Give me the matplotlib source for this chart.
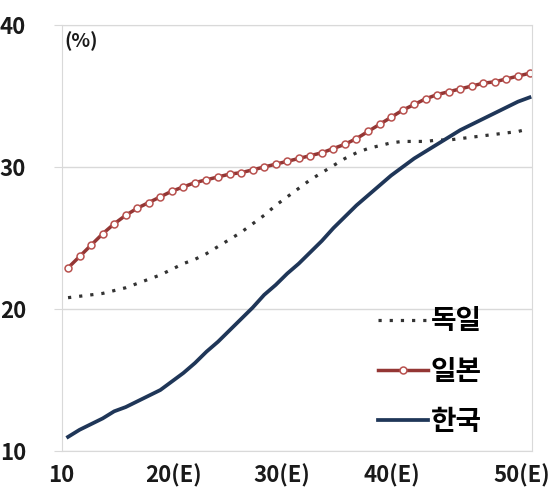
import numpy as np
import matplotlib.pyplot as plt
from matplotlib.transforms import ScaledTranslation

plt.rcParams['font.family'] = ['Noto Sans CJK KR', 'DejaVu Sans']

years = np.arange(2010, 2051)

germany = [20.8, 20.9, 21.0, 21.1, 21.3, 21.5, 21.8, 22.1, 22.4, 22.8,
           23.2, 23.5, 23.9, 24.4, 24.9, 25.4, 26.0, 26.6, 27.3, 27.9,
           28.5, 29.1, 29.6, 30.1, 30.6, 31.0, 31.3, 31.5, 31.7, 31.8,
           31.8, 31.8, 31.9, 31.9, 32.0, 32.1, 32.2, 32.3, 32.4, 32.5, 32.7]

japan = [22.9, 23.7, 24.5, 25.3, 26.0, 26.6, 27.1, 27.5, 27.9, 28.3,
         28.6, 28.9, 29.1, 29.3, 29.5, 29.6, 29.8, 30.0, 30.2, 30.4,
         30.6, 30.8, 31.0, 31.3, 31.6, 32.0, 32.5, 33.0, 33.5, 34.0,
         34.4, 34.8, 35.1, 35.3, 35.5, 35.7, 35.9, 36.0, 36.2, 36.4, 36.6]

korea = [11.0, 11.5, 11.9, 12.3, 12.8, 13.1, 13.5, 13.9, 14.3, 14.9,
         15.5, 16.2, 17.0, 17.7, 18.5, 19.3, 20.1, 21.0, 21.7, 22.5,
         23.2, 24.0, 24.8, 25.7, 26.5, 27.3, 28.0, 28.7, 29.4, 30.0,
         30.6, 31.1, 31.6, 32.1, 32.6, 33.0, 33.4, 33.8, 34.2, 34.6, 34.9]

labels = ['독일', '일본', '한국']
xtick_pos = [2010, 2020, 2030, 2040, 2050]
xtick_labels = ['10', '20(E)', '30(E)', '40(E)', '50(E)']
ytick_pos = [10, 20, 30, 40]

fig = plt.figure(figsize=(5.54, 4.99), dpi=100)
ax = fig.add_axes([0.112, 0.096, 0.848, 0.854])

ax.plot(years, germany, color='#333333', lw=2.3, linestyle=(0, (1, 2.5)), label=labels[0])
ax.plot(years, japan, color='#943634', lw=2.5, marker='o', markersize=5,
        markerfacecolor='white', markeredgecolor='#b8514e', markeredgewidth=1.1, label=labels[1])
ax.plot(years, korea, color='#1f3658', lw=2.7, label=labels[2])

ax.set_xlim(2009.48, 2050.2)
ax.set_ylim(10, 40)
ax.set_yticks(ytick_pos)
ax.set_xticks(xtick_pos)
ax.set_xticklabels(xtick_labels)
ax.grid(axis='y', color='#d9d9d9', lw=1)
ax.set_axisbelow(True)

for side in ['top', 'right', 'left', 'bottom']:
    ax.spines[side].set_color('#d9d9d9')
ax.tick_params(axis='y', length=6, color='#d9d9d9', pad=20, labelsize=16)
ax.tick_params(axis='x', length=0, pad=9, labelsize=16)
for t in ax.get_xticklabels() + ax.get_yticklabels():
    t.set_fontweight('bold')
    t.set_color('#1a1a1a')

# shift x labels a little left, as in the source chart
shifts = [-7, -10, -17, -22, -8]
for t, dx in zip(ax.get_xticklabels(), shifts):
    t.set_transform(t.get_transform() + ScaledTranslation(dx / 100, 0, fig.dpi_scale_trans))

ax.text(0.006, 0.985, '(%)', transform=ax.transAxes, fontsize=14, va='top',
        color='#1a1a1a', fontweight='bold')

leg = ax.legend(loc='lower left', bbox_to_anchor=(0.672, 0.036), frameon=False,
                borderaxespad=0, borderpad=0,
                prop={'size': 20, 'weight': 'bold'}, handlelength=1.8,
                handletextpad=0.1, labelspacing=0.8)

plt.savefig('out.png', dpi=100)
